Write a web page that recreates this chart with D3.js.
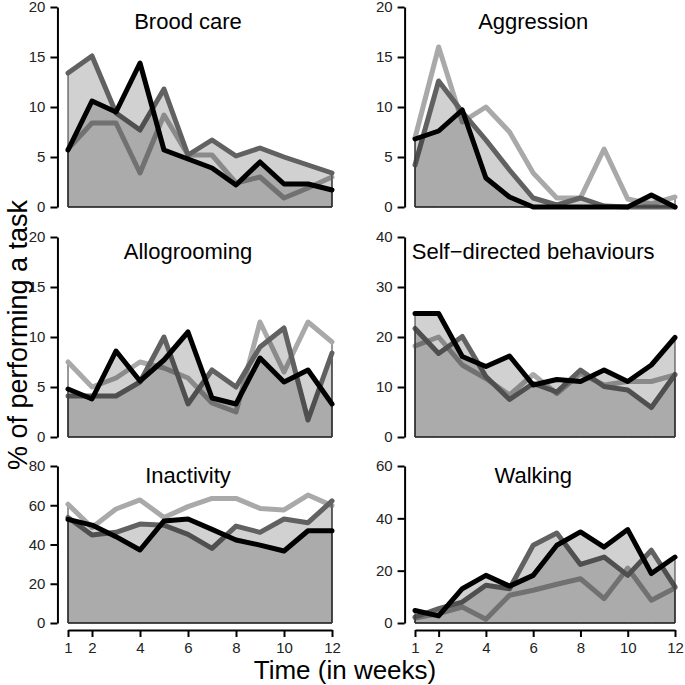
<!DOCTYPE html>
<html>
<head>
<meta charset="utf-8">
<script src="https://cdn.jsdelivr.net/npm/d3@7"></script>
<style>
  body { margin: 0; background: #fff; }
  svg { font-family: "Liberation Sans", Arial, sans-serif; }
</style>
</head>
<body>
<script>
// weeks on the x axis
const weeks = [1, 2, 3, 4, 5, 6, 7, 8, 9, 10, 11, 12];
const weekTicks = [1, 2, 4, 6, 8, 10, 12];

// three groups per task: light grey, dark grey, black
const broodLight = [5.8, 8.4, 8.4, 3.4, 9.2, 5.2, 5.2, 2.4, 3.0, 0.9, 1.9, 3.0];
const broodDark  = [13.4, 15.1, 9.4, 7.7, 11.8, 5.2, 6.7, 5.1, 5.9, 5.0, 4.2, 3.4];
const broodBlack = [5.7, 10.6, 9.5, 14.4, 5.7, 4.8, 3.9, 2.2, 4.5, 2.3, 2.3, 1.7];

const aggrLight = [6.9, 16.0, 8.5, 10.0, 7.5, 3.4, 0.9, 0.9, 5.8, 0.8, 0.3, 1.0];
const aggrDark  = [4.2, 12.6, 9.5, 6.7, 3.7, 0.9, 0.2, 0.9, 0.1, 0, 0, 0];
const aggrBlack = [6.8, 7.6, 9.7, 2.9, 1.0, 0, 0, 0, 0, 0, 1.2, 0];

const alloLight = [7.5, 5.0, 5.9, 7.5, 6.9, 5.9, 3.4, 2.5, 11.5, 6.5, 11.5, 9.5];
const alloDark  = [4.1, 4.1, 4.1, 5.5, 10.0, 3.3, 6.7, 5.0, 9.0, 10.9, 1.7, 8.4];
const alloBlack = [4.8, 3.8, 8.6, 5.6, 7.7, 10.5, 3.9, 3.3, 7.9, 5.5, 6.7, 3.3];

const selfLight = [18.2, 20.0, 14.4, 11.7, 8.4, 12.5, 8.7, 12.7, 10.4, 11.1, 11.1, 12.4];
const selfDark  = [21.7, 16.7, 20.1, 12.1, 7.5, 10.7, 9.0, 13.4, 10.1, 9.4, 5.9, 12.5];
const selfBlack = [24.7, 24.7, 16.1, 14.1, 16.2, 10.4, 11.5, 11.1, 13.4, 11.1, 14.4, 19.9];

const inacLight = [60.5, 48.7, 58.1, 62.7, 53.8, 59.3, 63.5, 63.5, 58.4, 57.6, 65.2, 59.8];
const inacDark  = [53.8, 44.8, 46.2, 50.4, 49.8, 45.2, 38.0, 49.4, 46.2, 53.0, 51.1, 62.2];
const inacBlack = [52.8, 49.9, 44.0, 37.2, 52.0, 53.0, 47.7, 42.3, 39.7, 36.7, 47.0, 47.0];

const walkLight = [1.9, 3.6, 6.1, 1.4, 10.6, 12.5, 14.8, 16.9, 9.3, 21.0, 8.7, 13.4];
const walkDark  = [2.3, 5.5, 8.0, 14.4, 13.1, 29.7, 34.4, 22.4, 25.2, 18.2, 27.8, 13.8];
const walkBlack = [4.8, 2.7, 13.1, 18.2, 14.1, 18.2, 29.7, 34.8, 29.0, 35.7, 18.9, 25.2];

const titles = ["Brood care", "Aggression", "Allogrooming",
                "Self\u2212directed behaviours", "Inactivity", "Walking"];
const yMaxes = [20, 20, 20, 40, 80, 60];
const yTicks = [
  [0, 5, 10, 15, 20], [0, 5, 10, 15, 20], [0, 5, 10, 15, 20],
  [0, 10, 20, 30, 40], [0, 20, 40, 60, 80], [0, 20, 40, 60]
];
const seriesSets = [
  [broodLight, broodDark, broodBlack],
  [aggrLight, aggrDark, aggrBlack],
  [alloLight, alloDark, alloBlack],
  [selfLight, selfDark, selfBlack],
  [inacLight, inacDark, inacBlack],
  [walkLight, walkDark, walkBlack]
];

const lineCols = ["#a9a9a9", "#616161", "#000000"];
const fillOn   = [false, true, true];

const svg = d3.select("body").append("svg")
  .attr("width", 685).attr("height", 685);

// panel geometry (R style mfrow 3x2)
const cols = [{ l: 68, r: 332 }, { l: 415, r: 675 }];
const rows = [{ top: 7, bot: 207 }, { top: 237, bot: 437 }, { top: 466, bot: 623 }];

titles.forEach((title, i) => {
  const c = cols[i % 2], r = rows[Math.floor(i / 2)];
  const x = d3.scaleLinear().domain([1, 12]).range([c.l, c.r]);
  const y = d3.scaleLinear().domain([0, yMaxes[i]]).range([r.bot, r.top]);
  const g = svg.append("g");

  // y axis sits at the edge of the extended plot region
  const axX = x(1 - 0.44);
  const yAx = g.append("g")
    .attr("transform", `translate(${axX},0)`)
    .call(d3.axisLeft(y).tickValues(yTicks[i]).tickSize(7).tickSizeOuter(0).tickPadding(5));
  yAx.selectAll("path, line").attr("stroke", "#000").attr("stroke-width", 2);
  yAx.selectAll("text").attr("font-size", 15).attr("fill", "#222")
    .attr("font-family", "Liberation Sans, Arial, sans-serif");

  // polygons + lines, one series after the other
  const area = d3.area()
    .x((d, k) => x(weeks[k]))
    .y0(y(0))
    .y1(d => y(d));
  const line = d3.line()
    .x((d, k) => x(weeks[k]))
    .y(d => y(d));

  seriesSets[i].forEach((vals, s) => {
    g.append("path")
      .attr("d", area(vals))
      .attr("fill", fillOn[s] ? "#000" : "none")
      .attr("fill-opacity", 0.18)
      .attr("stroke", "#333")
      .attr("stroke-width", 1);
    g.append("path")
      .attr("d", line(vals))
      .attr("fill", "none")
      .attr("stroke", lineCols[s])
      .attr("stroke-width", 5)
      .attr("stroke-linecap", "round")
      .attr("stroke-linejoin", "round");
  });

  g.append("text")
    .attr("x", x(6))
    .attr("y", r.top + (r.bot - r.top) * 0.11)
    .attr("text-anchor", "middle")
    .attr("font-size", 22)
    .text(title);

  // x axis only on bottom row
  if (Math.floor(i / 2) === 2) {
    const xAx = g.append("g")
      .attr("transform", `translate(0,630)`)
      .call(d3.axisBottom(x).tickValues(weekTicks).tickSize(7).tickSizeOuter(0).tickPadding(5));
    xAx.selectAll("path, line").attr("stroke", "#000").attr("stroke-width", 2);
    xAx.selectAll("text").attr("font-size", 15).attr("fill", "#222")
      .attr("font-family", "Liberation Sans, Arial, sans-serif");
  }
});

svg.append("text")
  .attr("x", 345).attr("y", 679)
  .attr("text-anchor", "middle")
  .attr("font-size", 26)
  .text("Time (in weeks)");

svg.append("text")
  .attr("transform", "translate(27,335) rotate(-90)")
  .attr("text-anchor", "middle")
  .attr("font-size", 27)
  .text("% of performing a task");
</script>
</body>
</html>
